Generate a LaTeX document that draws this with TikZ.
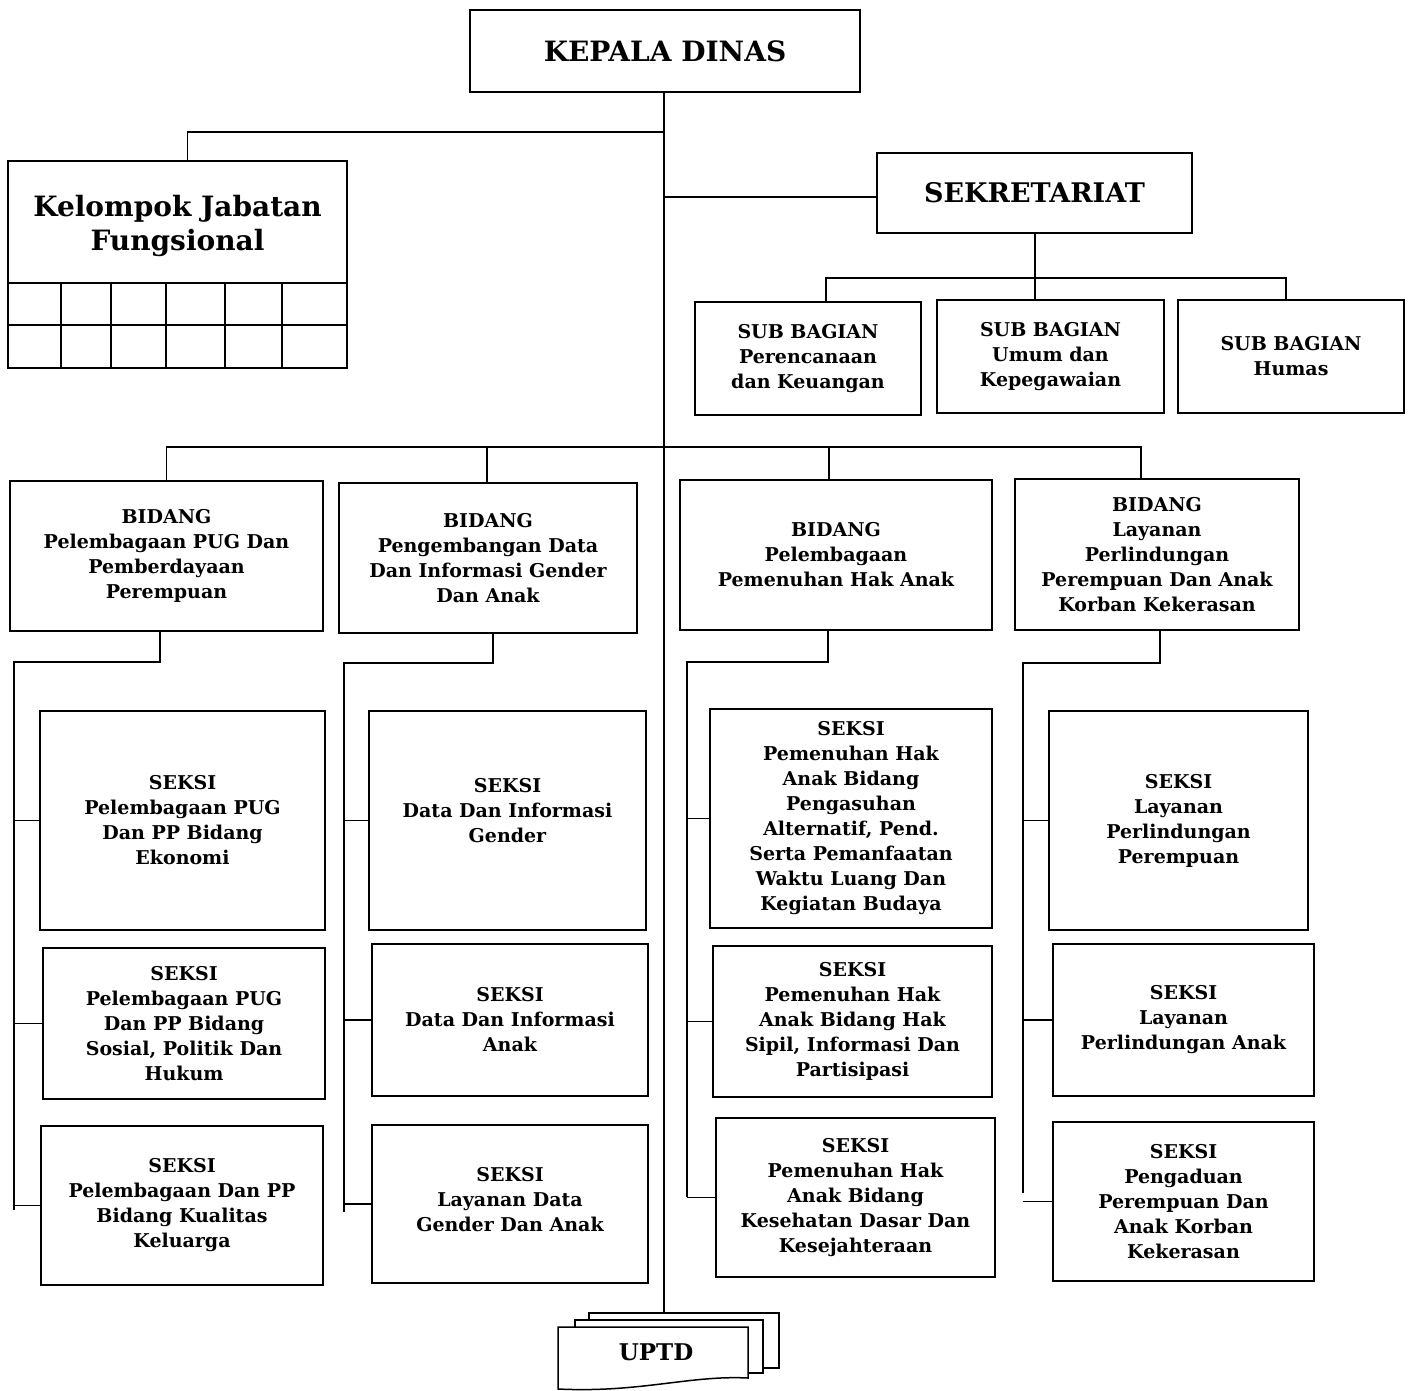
\documentclass[tikz,border=0pt]{standalone}
\usepackage{fontspec}
\setmainfont{DejaVu Serif}
\usetikzlibrary{positioning}

\begin{document}
\begin{tikzpicture}[x=1pt,y=-1pt,line width=1.5pt,
    box/.style={draw,align=center,inner sep=0pt,font=\bfseries\fontsize{19}{25}\selectfont},
    bigbox/.style={box,font=\bfseries\fontsize{28}{34}\selectfont}]
  \useasboundingbox (0,0) rectangle (1410,1391);

  % top level
  \node[bigbox,minimum width=390pt,minimum height=82pt] (kadis) at (665,51) {KEPALA DINAS};
  \node[bigbox,minimum width=339pt,minimum height=122pt] (jf) at (177.5,222) {};
  \node[font=\bfseries\fontsize{28}{34}\selectfont,align=center,inner sep=0pt] (jftext) at (177.5,226) {Kelompok Jabatan\\Fungsional};
  \node[bigbox,minimum width=315pt,minimum height=80pt,font=\bfseries\fontsize{27}{34}\selectfont] (sekr) at (1034.5,193) {SEKRETARIAT};
  \draw (8,283) rectangle (347,368);
  \draw (8,325) -- (347,325);
  \foreach \x in {61,111,166,225,282}
    \draw (\x,283) -- (\x,368);

  % sub bagian
  \node[box,minimum width=226pt,minimum height=113pt] (sb1) at (808,358.5) {SUB BAGIAN\\Perencanaan\\dan Keuangan};
  \node[box,minimum width=227pt,minimum height=113pt] (sb2) at (1050.5,356.5) {SUB BAGIAN\\Umum dan\\Kepegawaian};
  \node[box,minimum width=226pt,minimum height=113pt] (sb3) at (1291,356.5) {SUB BAGIAN\\Humas};

  % bidang
  \node[box,minimum width=313pt,minimum height=150pt] (b1) at (166.5,556) {BIDANG\\Pelembagaan PUG Dan\\Pemberdayaan\\Perempuan};
  \node[box,minimum width=298pt,minimum height=150pt] (b2) at (488,558) {BIDANG\\Pengembangan Data\\Dan Informasi Gender\\Dan Anak};
  \node[box,minimum width=312pt,minimum height=150pt] (b3) at (836,555) {BIDANG\\Pelembagaan\\Pemenuhan Hak Anak};
  \node[box,minimum width=284pt,minimum height=151pt] (b4) at (1157,554.5) {BIDANG\\Layanan\\Perlindungan\\Perempuan Dan Anak\\Korban Kekerasan};

  % seksi
  \node[box,minimum width=285pt,minimum height=219pt] (s1) at (182.5,820.5) {SEKSI\\Pelembagaan PUG\\Dan PP Bidang\\Ekonomi};
  \node[box,minimum width=282pt,minimum height=151pt] (s2) at (184,1023.5) {SEKSI\\Pelembagaan PUG\\Dan PP Bidang\\Sosial, Politik Dan\\Hukum};
  \node[box,minimum width=282pt,minimum height=159pt] (s3) at (182,1205.5) {SEKSI\\Pelembagaan Dan PP\\Bidang Kualitas\\Keluarga};
  \node[box,minimum width=277pt,minimum height=219pt] (s4) at (507.5,820.5) {SEKSI\\Data Dan Informasi\\Gender\\[-5pt]};
  \node[box,minimum width=276pt,minimum height=152pt] (s5) at (510,1020) {SEKSI\\Data Dan Informasi\\Anak};
  \node[box,minimum width=276pt,minimum height=158pt] (s6) at (510,1204) {SEKSI\\Layanan Data\\Gender Dan Anak\\[-15pt]};
  \node[box,minimum width=282pt,minimum height=219pt] (s7) at (851,818.5) {SEKSI\\Pemenuhan Hak\\Anak Bidang\\Pengasuhan\\Alternatif, Pend.\\Serta Pemanfaatan\\Waktu Luang Dan\\Kegiatan Budaya};
  \node[box,minimum width=279pt,minimum height=151pt] (s8) at (852.5,1021.5) {SEKSI\\Pemenuhan Hak\\Anak Bidang Hak\\Sipil, Informasi Dan\\Partisipasi};
  \node[box,minimum width=279pt,minimum height=159pt] (s9) at (855.5,1197.5) {SEKSI\\Pemenuhan Hak\\Anak Bidang\\Kesehatan Dasar Dan\\Kesejahteraan};
  \node[box,minimum width=259pt,minimum height=219pt] (s10) at (1178.5,820.5) {SEKSI\\Layanan\\Perlindungan\\Perempuan};
  \node[box,minimum width=261pt,minimum height=152pt] (s11) at (1183.5,1020) {SEKSI\\Layanan\\Perlindungan Anak};
  \node[box,minimum width=261pt,minimum height=159pt] (s12) at (1183.5,1201.5) {SEKSI\\Pengaduan\\Perempuan Dan\\Anak Korban\\Kekerasan};

  % uptd, a stack of pages
  \draw (589,1320) -- (589,1313) -- (779,1313) -- (779,1368) -- (763,1368);
  \draw (575,1327) -- (575,1320) -- (763,1320) -- (763,1373) -- (748,1373);
  \draw[fill=white] (558,1327) -- (748,1327) -- (748,1378)
    .. controls (690,1375) and (640,1393) .. (558,1389) -- cycle;
  \node[font=\bfseries\fontsize{23}{25}\selectfont] (uptd) at (656,1352) {UPTD};
  \coordinate (uptdtop) at (664,1313);

  % connectors
  \draw (kadis.south -| 664,0) -- (uptdtop);
  \draw (664,132) -| ([xshift=10pt]jf.north);
  \draw (664,197) -- (sekr.west |- 664,197);
  \coordinate (sbbus) at (1035,278);
  \draw (sekr.south -| sbbus) -- (sbbus);
  \draw ([xshift=18pt]sb1.north) |- (sbbus) -| ([xshift=-5pt]sb3.north);
  \draw (sbbus) -- (sb2.north -| sbbus);
  \coordinate (bbus) at (664,447);
  \draw (b1.north) |- (bbus) -| ([xshift=-16pt]b4.north);
  \draw ([xshift=-1pt]b2.north) -- ([xshift=-1pt]b2.north |- bbus);
  \draw ([xshift=-7pt]b3.north) -- ([xshift=-7pt]b3.north |- bbus);

  % buses of the seksi
  \coordinate (v1) at (14,662);
  \draw ([xshift=-6.5pt]b1.south) |- (v1) -- (14,1210);
  \foreach \s in {s1,s2,s3}
    \draw (v1 |- \s.west) -- (\s.west);
  \coordinate (v2) at (344,663);
  \draw ([xshift=5pt]b2.south) |- (v2) -- (344,1212);
  \foreach \s in {s4,s5,s6}
    \draw (v2 |- \s.west) -- (\s.west);
  \coordinate (v3) at (687,662);
  \draw ([xshift=-8pt]b3.south) |- (v3) -- (687,1197);
  \foreach \s in {s7,s8,s9}
    \draw (v3 |- \s.west) -- (\s.west);
  \coordinate (v4) at (1023,663);
  \draw ([xshift=3pt]b4.south) |- (v4) -- (1023,1193);
  \foreach \s in {s10,s11,s12}
    \draw (v4 |- \s.west) -- (\s.west);
\end{tikzpicture}
\end{document}
